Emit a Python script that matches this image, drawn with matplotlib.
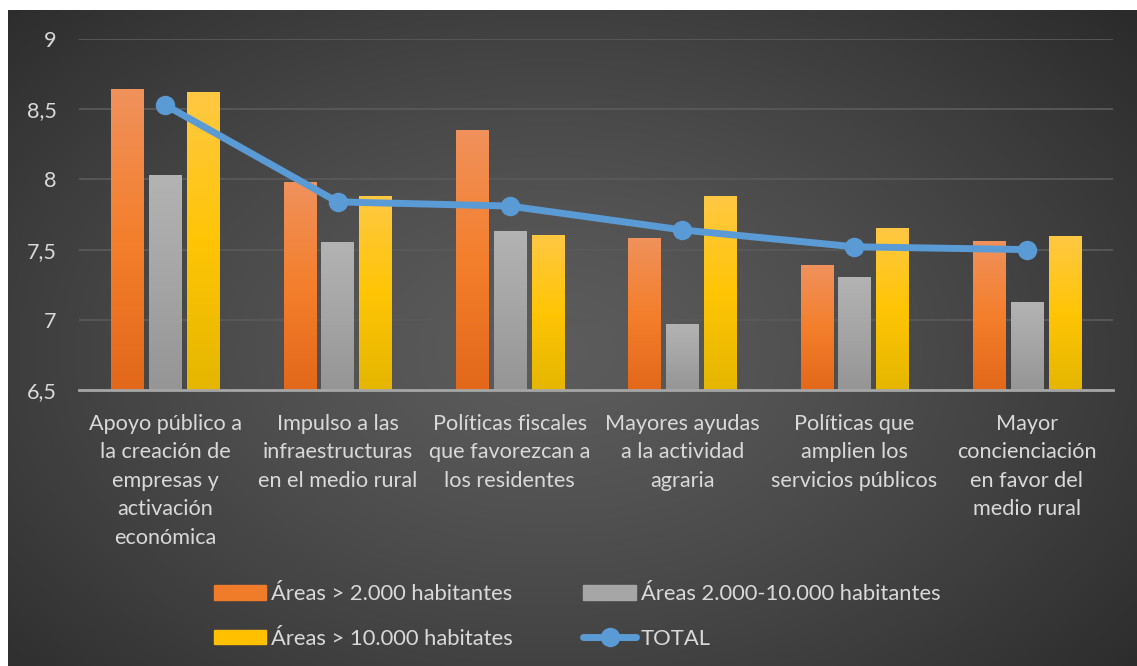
import numpy as np
import matplotlib
matplotlib.use("Agg")
import matplotlib.pyplot as plt
from matplotlib.colors import LinearSegmentedColormap
from matplotlib.lines import Line2D
from matplotlib.patches import Patch

categories = [
    "Apoyo público a\nla creación de\nempresas y\nactivación\neconómica",
    "Impulso a las\ninfraestructuras\nen el medio rural",
    "Políticas fiscales\nque favorezcan a\nlos residentes",
    "Mayores ayudas\na la actividad\nagraria",
    "Políticas que\namplien los\nservicios públicos",
    "Mayor\nconcienciación\nen favor del\nmedio rural",
]
areas_small = [8.64, 7.98, 8.35, 7.58, 7.39, 7.56]
areas_mid = [8.03, 7.55, 7.63, 6.97, 7.30, 7.12]
areas_large = [8.62, 7.88, 7.60, 7.88, 7.65, 7.59]
total = [8.53, 7.84, 7.81, 7.64, 7.52, 7.50]
series_labels = ["Áreas > 2.000 habitantes", "Áreas 2.000-10.000 habitantes",
                 "Áreas > 10.000 habitates", "TOTAL"]
yticks = [6.5, 7, 7.5, 8, 8.5, 9]
ytick_labels = ["6,5", "7", "7,5", "8", "8,5", "9"]

plt.rcParams['font.family'] = ['Lato', 'DejaVu Sans']
W, H = 1137, 666
fig = plt.figure(figsize=(W / 100, H / 100), dpi=100)
fig.patch.set_facecolor("white")

# background radial gradient
bg = fig.add_axes([8 / W, 0, 1 - 8 / W, 656 / H], zorder=0)
nx, ny = 400, 240
xx, yy = np.meshgrid(np.linspace(0, 1, nx), np.linspace(0, 1, ny))
r = np.sqrt(((xx - 0.48) / 0.75) ** 2 + ((yy - 0.52) / 0.85) ** 2)
r = np.clip(r, 0, 1)
c_in, c_out = 0x5c / 255, 0x25 / 255
val = c_in + (c_out - c_in) * r ** 1.3
bg.imshow(np.dstack([val, val, val]), aspect="auto", extent=[0, 1, 0, 1],
          interpolation="bilinear")
bg.set_axis_off()

ax = fig.add_axes([79 / W, 1 - 390 / H, (1113 - 79) / W, (390 - 39) / H], zorder=1)
ax.patch.set_alpha(0)

cmaps = [
    LinearSegmentedColormap.from_list("o", ["#e3681a", "#f47f2c", "#f0915c"]),
    LinearSegmentedColormap.from_list("g", ["#959595", "#a5a5a5", "#b3b3b3"]),
    LinearSegmentedColormap.from_list("y", ["#e5b600", "#ffc505", "#ffc843"]),
]
solid = ["#f07c2a", "#a6a6a6", "#ffc000"]

x = np.arange(len(categories))
bw = 0.186
off = 0.22
grad = np.linspace(0, 1, 256).reshape(-1, 1)
for i, (vals, cm) in enumerate(zip([areas_small, areas_mid, areas_large], cmaps)):
    bars = ax.bar(x + (i - 1) * off, np.array(vals) - 6.5, bw, bottom=6.5,
                  color=solid[i], zorder=2, linewidth=0)
    for b in bars:
        x0, y0 = b.get_x(), b.get_y()
        ax.imshow(grad, cmap=cm, origin="lower", aspect="auto",
                  extent=[x0, x0 + b.get_width(), y0, y0 + b.get_height()],
                  zorder=2.5)

ax.plot(x, total, color="#5b9bd5", lw=5, marker="o", markersize=13,
        solid_capstyle="round", zorder=4)

ax.set_xlim(-0.5, len(categories) - 0.5)
ax.set_ylim(6.5, 9)
ax.set_yticks(yticks)
ax.set_yticklabels(ytick_labels)
ax.set_xticks(x)
ax.set_xticklabels(categories, linespacing=1.53)
ax.tick_params(axis="both", length=0, labelsize=15.6, colors="#d9d9d9")
ax.tick_params(axis="y", pad=16)
ax.tick_params(axis="x", pad=17)
ax.grid(axis="y", color="#595959", lw=1.3, zorder=1)
ax.set_axisbelow(True)
for s in ["top", "right", "left"]:
    ax.spines[s].set_visible(False)
ax.spines["bottom"].set_color("#a6a6a6")
ax.spines["bottom"].set_linewidth(2)
ax.spines["bottom"].set_zorder(3)

handles = [Patch(color=solid[0]), Patch(color=solid[1]), Patch(color=solid[2]),
           Line2D([], [], color="#5b9bd5", lw=5, marker="o", markersize=13,
                  solid_capstyle="round")]
order = [0, 2, 1, 3]
leg = fig.legend([handles[k] for k in order], [series_labels[k] for k in order],
                 ncol=2, loc="center", bbox_to_anchor=(577 / W, 1 - 616.5 / H),
                 frameon=False, fontsize=15.8, labelcolor="#d9d9d9",
                 handlelength=2.4, handleheight=0.62, handletextpad=0.22,
                 columnspacing=3.2, labelspacing=1.12)

fig.savefig("out.png", dpi=100, facecolor=fig.get_facecolor())
